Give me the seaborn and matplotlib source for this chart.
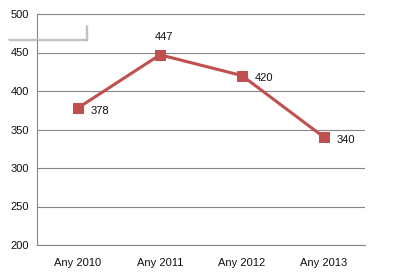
import matplotlib
matplotlib.use("Agg")
import matplotlib.pyplot as plt
import seaborn as sns
import pandas as pd
import numpy as np
from matplotlib.lines import Line2D
import matplotlib.patheffects as pe

categories = ["Any 2010", "Any 2011", "Any 2012", "Any 2013"]
values = [378, 447, 420, 340]
yticks = [200, 250, 300, 350, 400, 450, 500]

sns.set_style("white")
plt.rcParams['font.family'] = ['Liberation Sans', 'DejaVu Sans']

df = pd.DataFrame({"pos": np.arange(len(categories)), "val": values})

fig = plt.figure(figsize=(3.99, 2.79), dpi=100)
ax = fig.add_axes([37/399, 1-245/279, (365-37)/399, (245-14)/279])

sns.lineplot(data=df, x="pos", y="val", ax=ax, color="#C0504D", linewidth=2.2,
             marker="s", markersize=7, markeredgecolor="#C0504D", markerfacecolor="#C0504D")

ax.set_xlim(-0.5, len(categories)-0.5)
ax.set_ylim(200, 500)
ax.set_yticks(yticks)
ax.set_yticklabels([str(t) for t in yticks], fontsize=8, color="#111111")
ax.yaxis.grid(True, color="#868686", linewidth=0.8)
ax.set_axisbelow(True)

ax.set_xticks(np.arange(-0.5, len(categories), 1.0))
ax.set_xticklabels([])
ax.set_xticks(np.arange(len(categories)), minor=True)
ax.set_xticklabels(categories, minor=True, fontsize=8, color="#111111")
ax.tick_params(axis="x", which="major", length=4, color="#868686", direction="out")
ax.tick_params(axis="x", which="minor", length=0, pad=9)
ax.tick_params(axis="y", length=4, color="#868686", direction="out", pad=2)
ax.set_xlabel("")
ax.set_ylabel("")

for s in ["top", "right"]:
    ax.spines[s].set_visible(False)
for s in ["left", "bottom"]:
    ax.spines[s].set_color("#868686")
    ax.spines[s].set_linewidth(0.8)

offsets = [(9, -2), (-4, 9), (9, -2), (9, -2)]
for i, (v, off) in enumerate(zip(values, offsets)):
    ax.annotate(str(v), (i, v), xytext=off, textcoords="offset points",
                fontsize=8, color="#111111", ha="left", va="bottom" if off[1] > 0 else "center")

# leftover legend frame artifact in top-left
shadow = [pe.SimpleLineShadow(offset=(1, -1), shadow_color="#999999", alpha=0.6), pe.Normal()]
fig.add_artist(Line2D([8/399, 86/399], [1-39/279, 1-39/279], color="#c4c4c4", linewidth=1.0,
                      transform=fig.transFigure, path_effects=shadow))
fig.add_artist(Line2D([86/399, 86/399], [1-39/279, 1-25/279], color="#c4c4c4", linewidth=1.0,
                      transform=fig.transFigure, path_effects=shadow))

fig.savefig("out.png", dpi=100)
